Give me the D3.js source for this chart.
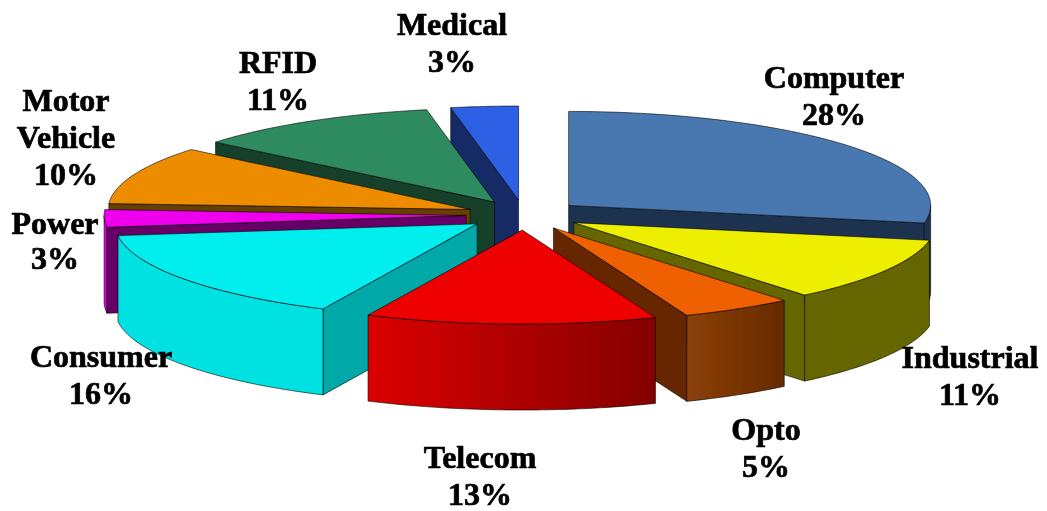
<!DOCTYPE html>
<html>
<head>
<meta charset="utf-8">
<script src="https://cdn.jsdelivr.net/npm/d3@7/dist/d3.min.js"></script>
<style>
html,body{margin:0;padding:0;background:#fff;overflow:hidden}
svg{display:block}
text{font-family:"Liberation Serif",serif;font-weight:700;font-size:32px;fill:#000;text-anchor:middle;stroke:#000;stroke-width:.7px}
</style>
</head>
<body>
<svg id="chart" width="1047" height="511"></svg>
<script>
// ---- data ----
const categories = ["Computer","Industrial","Opto","Telecom","Consumer","Power","Motor Vehicle","RFID","Medical"];
const shares = [28,11,5,13,16,3,10,11,3];

// ---- styles ----
const topColors  = ["#4a78b0","#eeee00","#ee6000","#ee0000","#00eeee","#ee00ee","#ee8c00","#2e8b5f","#2e60e6"];
const cutColors  = ["#1f3350","#666600","#662800","#880000","#00a8a8","#660066","#664000","#17402a","#162a66"];
const rimFrom    = ["#1f3350","#666600","#8c4008","#dc0000","#00e2e2","#ee00ee","#664000","#17402a","#162a66"];
const rimTo      = ["#1f3350","#666600","#662a00","#840000","#00e2e2","#c000c0","#664000","#17402a","#162a66"];
const paintOrder = [8,7,6,5,4,0,1,2,3];

// ---- label layout: [text lines, centre x, first baseline, line gap] ----
const labelLines = [["Computer"],["Industrial"],["Opto"],["Telecom"],["Consumer"],["Power"],["Motor","Vehicle"],["RFID"],["Medical"]];
const labelX     = [834,970,766,480,101,55,66,278,452];
const labelY     = [88,368,440,468,367,234,111,73,35];
const labelGap   = [37,37,37,37,37,35,37,37,37];

// ---- geometry ----
const cx = 524, cy = 215, rx = 362, ry = 94, depth = 86, explode = 0.16;
const sx = d3.scaleLinear().domain([-1,1]).range([-rx,rx]);
const sy = d3.scaleLinear().domain([-1,1]).range([-ry,ry]);

const svg = d3.select("#chart");
const defs = svg.append("defs");
defs.append("filter").attr("id","soft").attr("x","-5%").attr("y","-5%").attr("width","110%").attr("height","110%")
  .append("feGaussianBlur").attr("stdDeviation",0.45);

const arcs = d3.pie().value(d=>d).sort(null)(shares);
const line = d3.line();

function disk(a, r){ return [sx(Math.sin(a)*r), sy(-Math.cos(a)*r)]; }

function sliceParts(d){
  const mid = (d.startAngle+d.endAngle)/2;
  const o = disk(mid, explode);
  const ax = cx+o[0], ay = cy+o[1];
  const pt = (a,r=1,dz=0)=>{ const p=disk(a,r); return [ax+p[0], ay+p[1]+dz]; };
  const samples = (a0,a1)=>{
    const n = Math.max(2, Math.ceil((a1-a0)/0.02));
    return d3.range(n+1).map(i=>a0+(a1-a0)*i/n);
  };
  const top = [[ax,ay], ...samples(d.startAngle,d.endAngle).map(a=>pt(a))];
  const cuts = [];
  [d.startAngle,d.endAngle].forEach((a,i)=>{
    const s = Math.sin(a);
    const show = i===0 ? s < -1e-6 : s > 1e-6;
    if(show) cuts.push([[ax,ay],pt(a),pt(a,1,depth),[ax,ay+depth]]);
  });
  const f0 = Math.max(d.startAngle, Math.PI/2), f1 = Math.min(d.endAngle, Math.PI*1.5);
  let rim = null;
  if(f1>f0){
    const ss = samples(f0,f1);
    rim = [...ss.map(a=>pt(a)), ...ss.slice().reverse().map(a=>pt(a,1,depth))];
  }
  return {top,cuts,rim};
}

const root = svg.append("g").attr("filter","url(#soft)");
const edge = {stroke:"#000","stroke-opacity":0.65,"stroke-width":0.9,"stroke-linejoin":"round"};

paintOrder.forEach(i=>{
  const parts = sliceParts(arcs[i]);
  const grad = defs.append("linearGradient").attr("id","rim"+i).attr("x1",0).attr("x2",1).attr("y1",0).attr("y2",0);
  grad.append("stop").attr("offset",0).attr("stop-color",rimFrom[i]);
  grad.append("stop").attr("offset",1).attr("stop-color",rimTo[i]);
  const g = root.append("g").attr("class","slice").attr("data-name",categories[i]);
  parts.cuts.forEach(c=>{
    g.append("path").attr("d",line(c)+"Z").attr("fill",cutColors[i]);
  });
  if(parts.rim){
    g.append("path").attr("d",line(parts.rim)+"Z").attr("fill",`url(#rim${i})`);
  }
  g.append("path").attr("d",line(parts.top)+"Z").attr("fill",topColors[i]);
  g.selectAll("path").each(function(){ const s=d3.select(this); Object.entries(edge).forEach(([k,v])=>s.attr(k,v)); });
});

const labels = root.append("g").attr("class","labels");
categories.forEach((c,i)=>{
  const t = labels.append("text").attr("x",labelX[i]).attr("y",labelY[i]);
  [...labelLines[i], shares[i]+"%"].forEach((s,j)=>{
    t.append("tspan").attr("x",labelX[i]).attr("dy",j?labelGap[i]:0).text(s);
  });
});
</script>
</body>
</html>
